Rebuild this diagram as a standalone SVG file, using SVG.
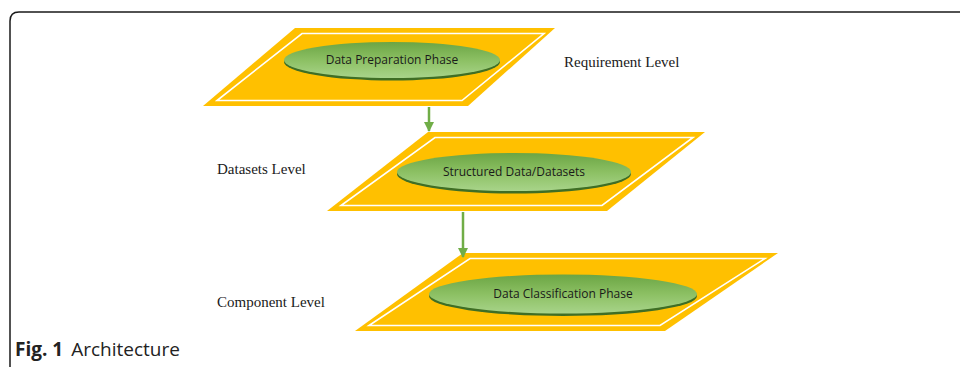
<svg xmlns="http://www.w3.org/2000/svg" width="960" height="367" viewBox="0 0 960 367">
<defs>
<linearGradient id="gEll" x1="0" y1="0" x2="0" y2="1">
<stop offset="0" stop-color="#6BA544"/>
<stop offset="0.5" stop-color="#8CC063"/>
<stop offset="1" stop-color="#A8D48A"/>
</linearGradient>
<marker id="ah" viewBox="0 0 10 10" refX="9" refY="5" markerWidth="4" markerHeight="4" orient="auto" markerUnits="strokeWidth">
<path d="M0,0 L10,5 L0,10 z" fill="#70AD47"/>
</marker>
</defs>
<style>
.plate{fill:#FFC000;}
.inner{fill:none;stroke:#FFFFFF;stroke-width:1.6;}
.shadow{fill:#3F6E25;}
.ell{fill:url(#gEll);}
.lbl{font-family:"Open Sans","Liberation Sans",sans-serif;font-size:12px;fill:#1a1a1a;text-anchor:middle;}
.lvl{font-family:"Liberation Serif","Times New Roman",serif;font-size:15px;fill:#1a1a1a;}
.conn{stroke:#70AD47;stroke-width:2.5;fill:none;}
.cap{font-family:"Open Sans","Noto Sans",sans-serif;font-size:19px;fill:#222;}
</style>
<path d="M10,367 L10,21 Q10,12 19,12 L960,12" fill="none" stroke="#1a1a1a" stroke-width="1.5"/>

<g id="node-requirement">
<polygon class="plate" points="295,28 555,28 468,106 203,106"/>
<polygon class="inner" points="302,33.5 544,33.5 462,100.5 217,100.5"/>
<ellipse class="shadow" cx="392" cy="62" rx="108" ry="18.5"/>
<ellipse class="ell" cx="392" cy="60" rx="108" ry="18"/>
<text class="lbl" x="392" y="64">Data Preparation Phase</text>
</g>

<g id="node-datasets">
<polygon class="plate" points="428,132 705,132 607,211 327,211"/>
<polygon class="inner" points="435,137.5 693,137.5 602,205.5 341,205.5"/>
<ellipse class="shadow" cx="514" cy="174" rx="117" ry="19.5"/>
<ellipse class="ell" cx="514" cy="172" rx="117" ry="19"/>
<text class="lbl" x="514" y="176">Structured Data/Datasets</text>
</g>

<g id="node-component">
<polygon class="plate" points="463,253 778,253 665,331 355,331"/>
<polygon class="inner" points="470,258.5 765,258.5 660,325.5 369,325.5"/>
<ellipse class="shadow" cx="563" cy="296" rx="134" ry="20"/>
<ellipse class="ell" cx="563" cy="294" rx="134" ry="19.5"/>
<text class="lbl" x="563" y="298">Data Classification Phase</text>
</g>

<g id="connectors">
<line class="conn" x1="429" y1="107" x2="429" y2="131" marker-end="url(#ah)"/>
<line class="conn" x1="463" y1="212" x2="463" y2="257" marker-end="url(#ah)"/>
</g>

<g id="levels">
<text class="lvl" x="564" y="67">Requirement Level</text>
<text class="lvl" x="217" y="174">Datasets Level</text>
<text class="lvl" x="217" y="307">Component Level</text>
</g>

<text class="cap" x="15" y="356"><tspan font-weight="bold">Fig. 1</tspan><tspan dx="8">Architecture</tspan></text>
</svg>
